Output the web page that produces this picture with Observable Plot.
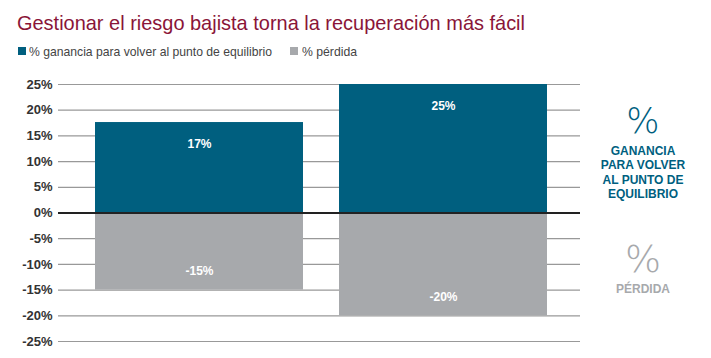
<!DOCTYPE html>
<html><head><meta charset="utf-8">
<script src="https://cdn.jsdelivr.net/npm/d3@7"></script>
<script src="https://cdn.jsdelivr.net/npm/@observablehq/plot@0.6"></script>
<style>
body{margin:0;background:#fff;font-family:"Liberation Sans",Arial,sans-serif;}
#wrap{position:relative;width:711px;height:358px;overflow:hidden;}
#title{position:absolute;left:17px;top:11px;font-size:21px;line-height:24px;color:#8a1538;white-space:nowrap;transform-origin:0 0;}
#legend{position:absolute;left:0;top:44px;width:711px;height:16px;font-size:13px;line-height:16px;color:#444;}
.lg{position:absolute;top:0;white-space:nowrap;transform-origin:0 0;}
.sw{position:absolute;top:3px;width:8px;height:8px;}
#chart{position:absolute;left:0;top:62px;}
.ann{position:absolute;text-align:center;font-family:"Liberation Sans",Arial,sans-serif;font-weight:bold;font-size:12px;line-height:14.5px;white-space:nowrap;}
.pct{position:absolute;text-align:center;font-family:"DejaVu Sans",sans-serif;font-weight:200;white-space:nowrap;}
</style></head>
<body><div id="wrap">
<div id="title">Gestionar el riesgo bajista torna la recuperación más fácil</div>
<div id="legend">
  <div class="sw" style="left:18px;background:#005f7f"></div>
  <div class="lg" id="lg1" style="left:29px">% ganancia para volver al punto de equilibrio</div>
  <div class="sw" style="left:290px;background:#a7a9ac"></div>
  <div class="lg" id="lg2" style="left:302px">% pérdida</div>
</div>
<div id="chart"></div>
<div class="pct" style="left:588px;top:104px;width:110px;font-size:35px;line-height:35px;color:#005f7f">%</div>
<div class="ann" style="left:588px;top:143.5px;width:110px;color:#005f7f">GANANCIA<br>PARA VOLVER<br>AL PUNTO DE<br>EQUILIBRIO</div>
<div class="pct" style="left:588px;top:240px;width:110px;font-size:38px;line-height:38px;color:#a7a9ac">%</div>
<div class="ann" style="left:588px;top:281.5px;width:110px;color:#a7a9ac">PÉRDIDA</div>
</div>
<script>
const categories = ["A", "B"];
const gainValues = [17.6, 25];
const lossValues = [-15, -20];
const gainLabels = ["17%", "25%"];
const lossLabels = ["-15%", "-20%"];
const yTicks = [-25, -20, -15, -10, -5, 0, 5, 10, 15, 20, 25];

const gain = categories.map((c, i) => ({cat: c, v: gainValues[i], label: gainLabels[i]}));
const loss = categories.map((c, i) => ({cat: c, v: lossValues[i], label: lossLabels[i]}));
const teal = "#005f7f", gray = "#a7a9ac";

const chart = Plot.plot({
  width: 711, height: 296,
  marginLeft: 58, marginRight: 131, marginTop: 22, marginBottom: 17,
  x: {domain: categories, range: [58, 583.5], paddingInner: 0.149, paddingOuter: 0.147, axis: null},
  y: {domain: [-25, 25], ticks: yTicks, tickFormat: d => String(d).replace("−", "-") + "%", label: null, tickSize: 0, tickPadding: 6},
  style: {fontFamily: "'Liberation Sans','DejaVu Sans',sans-serif", fontSize: "13px", fontWeight: "bold", color: "#333"},
  marks: [
    Plot.gridY(yTicks.filter(d => d !== 0), {stroke: "#999", strokeOpacity: 1, strokeWidth: 1.2}),
    Plot.barY(gain, {x: "cat", y: "v", fill: teal}),
    Plot.barY(loss, {x: "cat", y: "v", fill: gray}),
    Plot.ruleY([0], {stroke: "#222", strokeWidth: 2}),
    Plot.text(gain, {x: "cat", y: "v", text: "label", dy: 22, fill: "white", fontSize: 12, fontWeight: "bold"}),
    Plot.text(loss, {x: "cat", y: "v", text: "label", dy: -19, fill: "white", fontSize: 12, fontWeight: "bold"})
  ]
});
document.getElementById("chart").appendChild(chart);

function fit(id, target) {
  const el = document.getElementById(id);
  const w = el.getBoundingClientRect().width;
  if (w > 0) el.style.transform = "scaleX(" + (target / w) + ")";
}
fit("title", 508);
fit("lg1", 243);
fit("lg2", 55);
</script>
</body></html>
